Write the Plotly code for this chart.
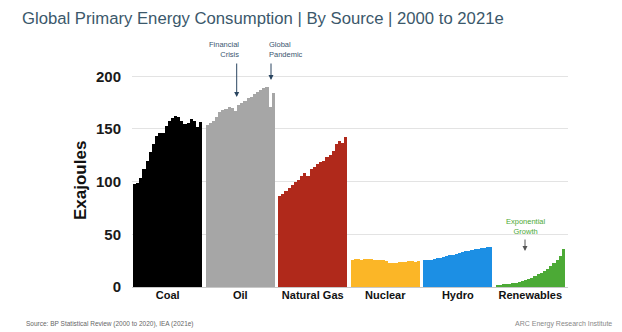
import plotly.graph_objects as go

years = list(range(2000, 2022))
sources = ["Coal", "Oil", "Natural Gas", "Nuclear", "Hydro", "Renewables"]
colors = ["#000000", "#a6a6a6", "#b0291b", "#fbb627", "#1c8fe4", "#4caa36"]

coal = [98, 99, 103, 112, 120, 128, 136, 143, 146, 146, 153, 158, 160, 162, 161, 158, 155, 156, 159, 158, 152, 157]
oil = [154, 156, 158, 161, 166, 168, 169, 171, 170, 167, 173, 175, 177, 179, 180, 183, 185, 187, 189, 190, 171, 184]
gas = [86, 88, 91, 94, 97, 100, 102, 105, 108, 105, 112, 114, 117, 119, 120, 123, 125, 129, 136, 139, 137, 142]
nuclear = [26.0, 26.4, 26.6, 26.1, 26.7, 26.6, 26.7, 26.0, 25.8, 25.4, 25.9, 24.7, 22.6, 22.7, 23.1, 23.3, 23.6, 23.9, 24.4, 24.9, 24.0, 25.0]
hydro = [25.8, 25.6, 26.0, 26.2, 27.2, 28.0, 28.7, 29.0, 30.0, 30.3, 31.5, 32.0, 33.0, 34.0, 34.4, 34.8, 35.8, 36.2, 37.0, 37.3, 38.0, 37.6]
renewables = [2.0, 2.2, 2.5, 2.8, 3.2, 3.7, 4.2, 4.8, 5.6, 6.4, 7.7, 9.0, 10.5, 12.1, 13.7, 15.4, 17.4, 20.1, 22.9, 25.8, 29.0, 36.5]
series = [coal, oil, gas, nuclear, hydro, renewables]

y_ticks = [0, 50, 100, 150, 200]
slot = len(years) + 1  # one empty slot between groups

fig = go.Figure()
for g, (name, vals, col) in enumerate(zip(sources, series, colors)):
    xs = [g * slot + i for i in range(len(years))]
    fig.add_trace(go.Bar(x=xs, y=vals, name=name, width=1.0,
                         marker=dict(color=col, line=dict(width=0)),
                         customdata=years, hovertemplate=name + " %{customdata}: %{y} EJ<extra></extra>"))

centers = [g * slot + (len(years) - 1) / 2 for g in range(len(sources))]

L, R, T, B = 132, 568, 71, 287
W, H = 622, 332
def px(x):
    return (x - L) / (R - L)
def py(y):
    return (B - y) / (B - T)

fig.update_layout(
    width=W, height=H, margin=dict(l=L, r=W - R, t=T, b=H - B),
    paper_bgcolor="white", plot_bgcolor="white",
    showlegend=False, bargap=0, barmode="overlay",
    font=dict(family="Liberation Sans, Arial, sans-serif", color="#222"),
    title=dict(text="Global Primary Energy Consumption | By Source | 2000 to 2021e",
               x=22 / W, xref="container", xanchor="left",
               y=1 - 18 / H, yref="container", yanchor="middle",
               font=dict(size=16.7, color="#3b586b", family="Liberation Sans, Arial, sans-serif")),
    xaxis=dict(range=[-0.82, 137.45], tickvals=centers, ticktext=sources,
               showgrid=False, zeroline=False, showline=False, ticks="",
               tickfont=dict(size=11, color="#111", family="Liberation Sans, Arial, sans-serif", weight="bold")),
    yaxis=dict(range=[0, 205], tickvals=y_ticks, showgrid=True, gridcolor="#e3e3e3", gridwidth=1,
               zeroline=True, zerolinecolor="#c8c8c8", zerolinewidth=1, ticks="",
               ticklabelstandoff=10,
               tickfont=dict(size=15, color="#1a1a1a", family="Liberation Sans, Arial, sans-serif", weight="bold")),
)

def arrow(x, y_head, y_tail, color):
    return dict(x=px(x), y=py(y_head), xref="paper", yref="paper",
                ax=0, ay=y_tail - y_head, axref="pixel", ayref="pixel",
                showarrow=True, arrowhead=2, arrowsize=1, arrowwidth=1,
                arrowcolor=color, text="")

ann = []
ann.append(dict(text="<b>Exajoules</b>", textangle=-90, x=px(80), y=py(181), xref="paper", yref="paper",
                xanchor="center", yanchor="middle", showarrow=False, font=dict(size=17, color="#111")))
ann.append(dict(text="Financial<br>Crisis", x=px(241), y=py(49.5), xref="paper", yref="paper",
                xanchor="right", yanchor="middle", align="right", showarrow=False,
                font=dict(size=7.5, color="#3b5670")))
ann.append(arrow(236.7, 97, 62, "#2a4560"))
ann.append(dict(text="Global<br>Pandemic", x=px(266.5), y=py(49.5), xref="paper", yref="paper",
                xanchor="left", yanchor="middle", align="left", showarrow=False,
                font=dict(size=7.5, color="#3b5670")))
ann.append(arrow(271, 80, 62, "#2a4560"))
ann.append(dict(text="Exponential<br>Growth", x=px(525.5), y=py(226), xref="paper", yref="paper",
                xanchor="center", yanchor="middle", align="center", showarrow=False,
                font=dict(size=7.5, color="#4caa36")))
ann.append(arrow(525, 251, 238, "#555"))
ann.append(dict(text="Source: BP Statistical Review (2000 to 2020), IEA (2021e)", x=px(24), y=py(324),
                xref="paper", yref="paper", xanchor="left", yanchor="middle", showarrow=False,
                font=dict(size=6.5, color="#666")))
ann.append(dict(text="ARC Energy Research Institute", x=px(614), y=py(324),
                xref="paper", yref="paper", xanchor="right", yanchor="middle", showarrow=False,
                font=dict(size=7, color="#888")))
fig.update_layout(annotations=ann)

fig.write_html("out.html")
